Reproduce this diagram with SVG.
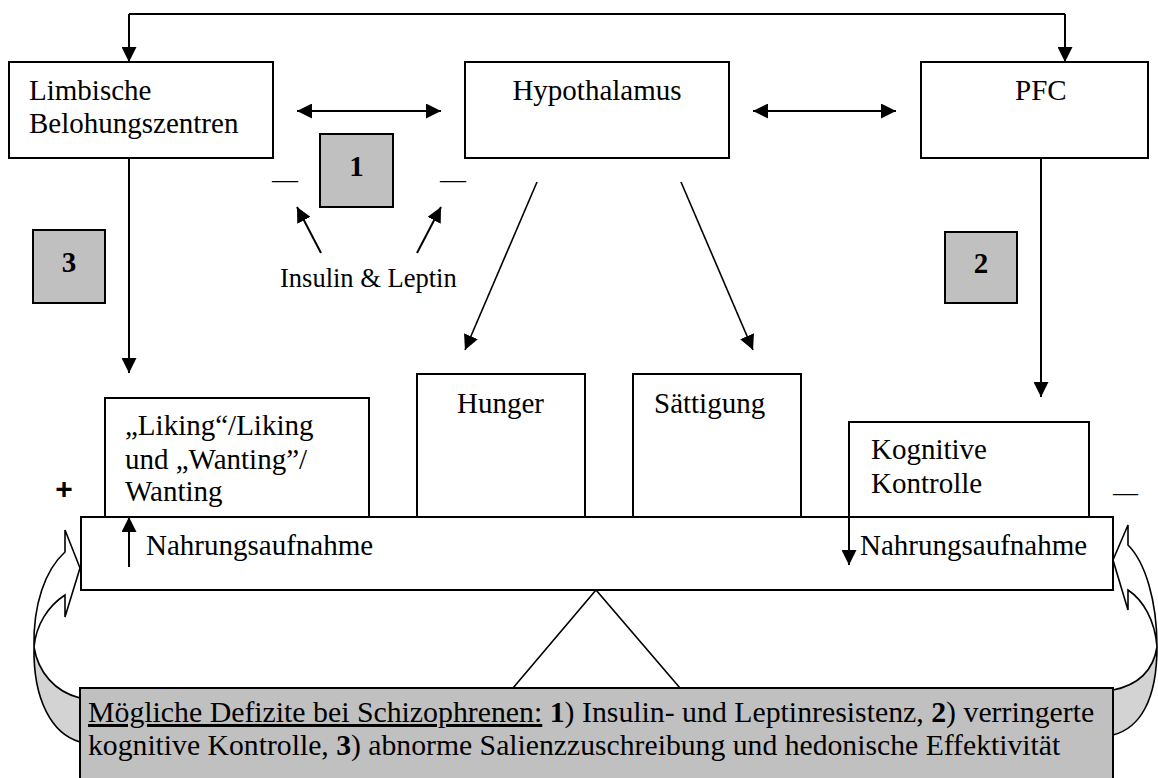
<svg xmlns="http://www.w3.org/2000/svg" width="1158" height="778" viewBox="0 0 1158 778">
<style>
  .box{fill:#fff;stroke:#000;stroke-width:2}
  .num{fill:#c0c0c0;stroke:#000;stroke-width:2}
  .t{font-family:"Liberation Serif","Times New Roman",serif;font-size:29px;fill:#000}
  .b{font-weight:bold}
  .ln{fill:none;stroke:#000;stroke-width:2}
  .thin{fill:none;stroke:#000;stroke-width:1.6}
  .front{fill:#fff;stroke:#000;stroke-width:1.6;stroke-linejoin:miter}
  .back{fill:#d3d3d3;stroke:#000;stroke-width:1.6}
</style>
<defs>
  <marker id="ah" viewBox="0 0 15 15" refX="15" refY="7.5" markerWidth="15" markerHeight="15" markerUnits="userSpaceOnUse" orient="auto-start-reverse">
    <path d="M0,0 L15,7.5 L0,15 Z" fill="#000"/>
  </marker>
</defs>
<rect width="1158" height="778" fill="#fff"/>

<!-- curved feedback arrows -->
<g id="curved-left">
  <path class="back" d="M34,647 C38,672 55,692 80,698 L80,742 C52,734 33,700 34,647 Z"/>
  <path class="front" d="M34,647 C33,605 45,570 65,552 L65,530 L80,568 L65,617 L65,595 C48,606 36,625 34,647 Z"/>
</g>
<g id="curved-right">
  <path class="back" d="M1157,647 C1153,672 1138,685 1113,690 L1113,735 C1140,728 1157,700 1157,647 Z"/>
  <path class="front" d="M1157,647 C1157,600 1145,562 1128,545 L1128,525 L1113,560 L1128,610 L1128,590 C1143,600 1155,620 1157,647 Z"/>
</g>

<!-- fulcrum -->
<g id="fulcrum">
  <path d="M513,688 L596,590 L680,688" fill="#fff" stroke="#000" stroke-width="1.6"/>
</g>

<g id="limbisch">
  <rect class="box" x="9" y="62" width="264" height="96"/>
  <text class="t" x="29" y="100">Limbische</text>
  <text class="t" x="29" y="133">Belohungszentren</text>
</g>
<g id="hypothalamus">
  <rect class="box" x="465" y="62" width="264" height="96"/>
  <text class="t" x="597" y="100" text-anchor="middle">Hypothalamus</text>
</g>
<g id="pfc">
  <rect class="box" x="921" y="62" width="227" height="96"/>
  <text class="t" x="1015" y="100">PFC</text>
</g>

<g id="box1">
  <rect class="num" x="320" y="134" width="73" height="73"/>
  <text class="t b" x="356.5" y="176" text-anchor="middle">1</text>
</g>
<g id="box2">
  <rect class="num" x="945" y="232" width="72" height="71"/>
  <text class="t b" x="981" y="273" text-anchor="middle">2</text>
</g>
<g id="box3">
  <rect class="num" x="33" y="230" width="72" height="73"/>
  <text class="t b" x="69" y="272" text-anchor="middle">3</text>
</g>

<g id="insulin-leptin">
  <text class="t" x="280" y="287" style="font-size:26.5px">Insulin &amp; Leptin</text>
</g>

<g id="liking">
  <rect class="box" x="105" y="398" width="264" height="119"/>
  <text class="t" x="125" y="435">„Liking“/Liking</text>
  <text class="t" x="125" y="469">und „Wanting”/</text>
  <text class="t" x="125" y="501">Wanting</text>
</g>
<g id="hunger">
  <rect class="box" x="417" y="374" width="168" height="143"/>
  <text class="t" x="457" y="413">Hunger</text>
</g>
<g id="saettigung">
  <rect class="box" x="633" y="374" width="168" height="143"/>
  <text class="t" x="654" y="413">Sättigung</text>
</g>
<g id="kognitive">
  <rect class="box" x="849" y="422" width="240" height="95"/>
  <text class="t" x="871" y="459">Kognitive</text>
  <text class="t" x="871" y="493">Kontrolle</text>
</g>

<g id="plank">
  <rect class="box" x="81" y="517" width="1032" height="73"/>
  <text class="t" x="146" y="555">Nahrungsaufnahme</text>
  <text class="t" x="860" y="555">Nahrungsaufnahme</text>
</g>

<g id="signs">
  <text x="64" y="499" text-anchor="middle" style="font-family:'Liberation Sans',Arial,sans-serif;font-weight:bold;font-size:30px">+</text>
  <text class="t" x="272" y="188" style="font-size:26px">—</text>
  <text class="t" x="440" y="188" style="font-size:26px">—</text>
  <text class="t" x="1113" y="501" style="font-size:25px">—</text>
</g>

<g id="deficits">
  <rect x="80" y="688" width="1033" height="100" fill="#c0c0c0" stroke="#000" stroke-width="2"/>
  <text class="t" x="88" y="722" style="font-size:29.8px"><tspan text-decoration="underline">Mögliche Defizite bei Schizophrenen:</tspan> <tspan class="b">1</tspan>) Insulin- und Leptinresistenz, <tspan class="b">2</tspan>) verringerte</text>
  <text class="t" x="88" y="755" style="font-size:29.7px">kognitive Kontrolle, <tspan class="b">3</tspan>) abnorme Salienzzuschreibung und hedonische Effektivität</text>
</g>

<g id="connectors">
  <path class="ln" d="M129,14 L1065,14" />
  <path class="ln" d="M129,14 L129,62" marker-end="url(#ah)"/>
  <path class="ln" d="M1065,14 L1065,62" marker-end="url(#ah)"/>
  <path class="ln" d="M297,111 L441,111" marker-start="url(#ah)" marker-end="url(#ah)"/>
  <path class="ln" d="M753,111 L896,111" marker-start="url(#ah)" marker-end="url(#ah)"/>
  <path class="ln" d="M129,158 L129,373" marker-end="url(#ah)"/>
  <path class="ln" d="M1041,158 L1041,397" marker-end="url(#ah)"/>
  <path class="thin" d="M537,182 L465,350" marker-end="url(#ah)"/>
  <path class="thin" d="M681,182 L753,350" marker-end="url(#ah)"/>
  <path class="ln" d="M321,253 L297,207" marker-end="url(#ah)"/>
  <path class="ln" d="M417,253 L441,207" marker-end="url(#ah)"/>
  <path class="ln" d="M129,567 L129,517" marker-end="url(#ah)"/>
  <path class="ln" d="M849,517 L849,565" marker-end="url(#ah)"/>
</g>
</svg>
